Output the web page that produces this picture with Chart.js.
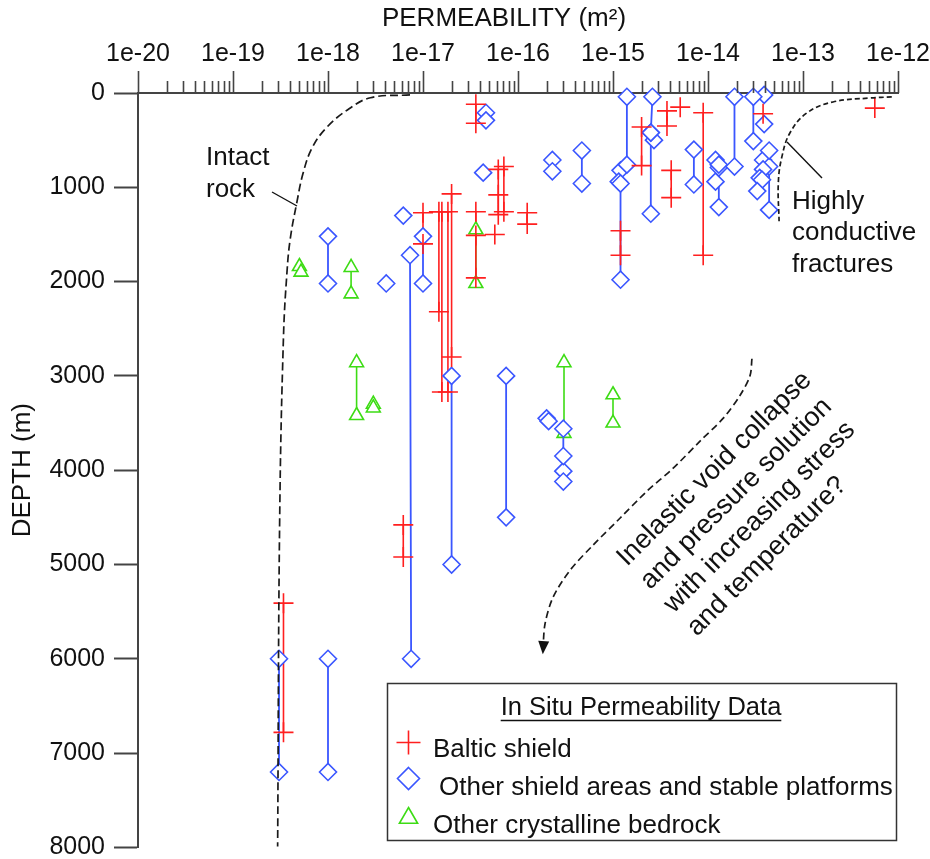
<!DOCTYPE html>
<html>
<head>
<meta charset="utf-8">
<script src="https://cdn.jsdelivr.net/npm/chart.js@4.4.1/dist/chart.umd.min.js"></script>
<style>
  html, body { margin: 0; padding: 0; background: #fff; }
  canvas { display: block; }
</style>
</head>
<body>
<canvas id="chart" width="930" height="859"></canvas>
<script>
// ---- Axis ticks ----
const decadeExponents = [-20, -19, -18, -17, -16, -15, -14, -13, -12];
const decadeLabels = ['1e-20', '1e-19', '1e-18', '1e-17', '1e-16', '1e-15', '1e-14', '1e-13', '1e-12'];
const minorMantissas = [2, 3, 4, 5, 6, 7, 8, 9];
const depthTicks = [0, 1000, 2000, 3000, 4000, 5000, 6000, 7000, 8000];

// ---- In situ permeability data ----
// single measurements: [permeability m², depth m]
// tested intervals: [permeability m², top depth m, bottom depth m, (bottom permeability)]
const balticSingles = [
  [5.1e-15, 150], [3.8e-14, 220], [5.7e-13, 160], [5.7e-17, 1500],
  [3.6e-17, 1510], [6.2e-17, 1080]
];
const balticIntervals = [
  [3.6e-17, 120, 320], [7.1e-17, 780, 1260], [6.2e-17, 810, 1290],
  [1.25e-16, 1270, 1390], [3.6e-17, 1260, 1960], [1.0e-17, 1270, 1600],
  [1.47e-17, 1260, 2320], [1.58e-17, 1260, 3170], [1.83e-17, 1260, 3170],
  [2.0e-17, 1070, 2800], [6.2e-18, 4580, 4920], [3.4e-19, 5410, 6780],
  [3.7e-15, 190, 350], [2.0e-15, 360, 770], [4.1e-15, 820, 1110],
  [8.9e-15, 210, 1720], [1.2e-15, 1460, 1720]
];

const shieldSingles = [
  [4.6e-17, 210], [4.6e-17, 290], [4.3e-17, 845], [6.2e-18, 1300], [4.1e-18, 2020],
  [2.3e-16, 710], [2.3e-16, 830], [2.0e-16, 3450], [2.1e-16, 3480],
  [3.0e-16, 4010], [3.0e-16, 4120], [1.2e-15, 820], [1.15e-15, 940], [2.7e-15, 500],
  [1.2e-14, 710], [1.2e-14, 940], [1.3e-14, 790], [3.9e-14, 20], [3.9e-14, 330],
  [3.8e-14, 710], [4.4e-14, 780], [3.8e-14, 810], [3.5e-14, 900], [3.7e-14, 920],
  [3.3e-14, 1040]
];
const shieldIntervals = [
  [1.0e-17, 1520, 2020], [7.3e-18, 1720, 6000, 7.5e-18], [1.0e-18, 1520, 2020],
  [2.0e-17, 3000, 5000], [7.5e-17, 3000, 4500], [3.0e-16, 3560, 3850],
  [3.05e-19, 6000, 7200], [1.0e-18, 6000, 7200], [4.7e-16, 610, 960],
  [1.4e-15, 40, 760], [1.2e-15, 960, 1980], [2.6e-15, 40, 420, 2.5e-15],
  [2.5e-15, 420, 1280], [7.1e-15, 600, 970], [1.3e-14, 760, 1210],
  [1.9e-14, 40, 780], [3.0e-14, 40, 510], [4.4e-14, 610, 1240]
];

const bedrockSingles = [
  [5.0e-19, 1840], [5.2e-19, 1900], [3.0e-18, 3300], [3.0e-18, 3340]
];
const bedrockIntervals = [
  [1.75e-18, 1850, 2130], [2.0e-18, 2860, 3420], [3.05e-16, 2860, 3610],
  [1.0e-15, 3200, 3500], [3.6e-17, 1450, 2020]
];

// ---- Guide curves: [permeability m², depth m] ----
const intactRockCurve = [
  [7.3e-18, 20], [2.8e-18, 50], [1.6e-18, 180], [9.8e-19, 360], [6.9e-19, 570],
  [5.5e-19, 840], [4.7e-19, 1160], [4.0e-19, 1550], [3.7e-19, 1900],
  [3.4e-19, 2580], [3.1e-19, 4510], [2.95e-19, 7990]
];
const fracturesCurve = [
  [8.6e-13, 42], [5.1e-13, 53], [2.07e-13, 95], [1.1e-13, 211], [7.3e-14, 422],
  [6.0e-14, 675], [5.5e-14, 950], [5.6e-14, 1360]
];
const collapseArrow = [
  [2.9e-14, 2818], [2.77e-14, 2997], [2.17e-14, 3208], [1.44e-14, 3451],
  [8.2e-15, 3694], [4.3e-15, 3979], [2.28e-15, 4222], [1.19e-15, 4507],
  [6.2e-16, 4792], [3.5e-16, 5066], [2.33e-16, 5351], [1.92e-16, 5636],
  [1.83e-16, 5930]
];

const FONT = '"Liberation Sans", Arial, Helvetica, sans-serif';
const INK = '#111';
const AXIS = '#444';

const series = [
  { label: 'Baltic shield', color: '#ff1f1f', style: 'cross', radius: 10, lineWidth: 1.6,
    singles: balticSingles, intervals: balticIntervals },
  { label: 'Other shield areas and stable platforms', color: '#3a56ff', style: 'rectRot', radius: 8.5, lineWidth: 1.8,
    singles: shieldSingles, intervals: shieldIntervals },
  { label: 'Other crystalline bedrock', color: '#3ddc14', style: 'triangle', radius: 8, lineWidth: 1.6,
    singles: bedrockSingles, intervals: bedrockIntervals }
];

const toPoints = rows => rows.map(([k, d]) => ({ x: k, y: d }));

function markerData(s) {
  const pts = toPoints(s.singles);
  s.intervals.forEach(([k, d1, d2, k2]) => {
    pts.push({ x: k, y: d1 }, { x: k2 ?? k, y: d2 });
  });
  return pts;
}
function intervalData(s) {
  const pts = [];
  s.intervals.forEach(([k, d1, d2, k2]) => {
    pts.push({ x: k, y: d1 }, { x: k2 ?? k, y: d2 }, { x: null, y: null });
  });
  return pts;
}

const datasets = [];
// guide curves on top
datasets.push({
  label: 'Intact rock', data: toPoints(intactRockCurve), showLine: true, pointRadius: 0,
  borderColor: '#1a1a1a', borderWidth: 1.7, borderDash: [8, 4], tension: 0.4, order: 0, clip: false
});
datasets.push({
  label: 'Highly conductive fractures', data: toPoints(fracturesCurve), showLine: true, pointRadius: 0,
  borderColor: '#1a1a1a', borderWidth: 1.7, borderDash: [5, 3], tension: 0.4, order: 0, clip: false
});
datasets.push({
  label: 'Trend', data: toPoints(collapseArrow), showLine: true, pointRadius: 0,
  borderColor: '#1a1a1a', borderWidth: 1.7, borderDash: [7, 4], tension: 0.3, order: 0, clip: false
});
series.forEach(s => {
  datasets.push({
    label: s.label, data: markerData(s), showLine: false,
    pointStyle: s.style, pointRadius: s.radius, pointHoverRadius: s.radius,
    pointBorderColor: s.color, pointBackgroundColor: s.style === 'cross' ? s.color : '#fff',
    pointBorderWidth: 1.6, borderColor: s.color, backgroundColor: '#fff', order: 1, clip: false
  });
  datasets.push({
    label: s.label + ' interval', data: intervalData(s), showLine: true, pointRadius: 0,
    borderColor: s.color, borderWidth: s.lineWidth, spanGaps: false, tension: 0, order: 2, clip: false
  });
});

// axis title and decade / sub-decade tick marks above the permeability axis
const permeabilityAxis = {
  id: 'permeabilityAxis',
  afterDraw(chart) {
    const xs = chart.scales.x;
    const y0 = xs.bottom;
    const ctx = chart.ctx;
    ctx.save();
    ctx.strokeStyle = AXIS;
    ctx.lineWidth = 1.6;
    ctx.beginPath();
    decadeExponents.forEach((e, i) => {
      const base = Math.pow(10, e);
      const px = Math.round(xs.getPixelForValue(base)) + 0.5;
      ctx.moveTo(px, y0); ctx.lineTo(px, y0 - 22);
      if (i < decadeExponents.length - 1) {
        minorMantissas.forEach(m => {
          const p = Math.round(xs.getPixelForValue(m * base)) + 0.5;
          ctx.moveTo(p, y0); ctx.lineTo(p, y0 - 12);
        });
      }
    });
    ctx.stroke();

    ctx.fillStyle = INK;
    ctx.font = '26px ' + FONT;
    ctx.textAlign = 'center';
    ctx.textBaseline = 'alphabetic';
    ctx.fillText('PERMEABILITY (m²)', 504, 26);
    ctx.restore();
  }
};

function drawMarker(ctx, style, x, y, r) {
  ctx.beginPath();
  if (style === 'cross') {
    ctx.moveTo(x - r, y); ctx.lineTo(x + r, y);
    ctx.moveTo(x, y - r); ctx.lineTo(x, y + r);
  } else if (style === 'rectRot') {
    ctx.moveTo(x, y - r); ctx.lineTo(x + r, y); ctx.lineTo(x, y + r); ctx.lineTo(x - r, y); ctx.closePath();
  } else {
    const h = r * Math.sqrt(3) / 2;
    ctx.moveTo(x, y - r); ctx.lineTo(x + h, y + r / 2); ctx.lineTo(x - h, y + r / 2); ctx.closePath();
  }
  ctx.stroke();
}

// notes, arrowhead and the data key
const notes = {
  id: 'notes',
  afterDatasetsDraw(chart) {
    const ctx = chart.ctx;
    const xs = chart.scales.x, ys = chart.scales.y;
    ctx.save();
    ctx.fillStyle = INK;
    ctx.strokeStyle = INK;
    ctx.font = '26px ' + FONT;
    ctx.textAlign = 'left';
    ctx.textBaseline = 'alphabetic';

    ctx.fillText('Intact', 206, 165);
    ctx.fillText('rock', 206, 197);
    ctx.lineWidth = 1.4;
    ctx.beginPath(); ctx.moveTo(272, 192); ctx.lineTo(297, 206); ctx.stroke();

    ctx.fillText('Highly', 792, 209);
    ctx.fillText('conductive', 792, 240);
    ctx.fillText('fractures', 792, 272);
    ctx.beginPath(); ctx.moveTo(787, 142); ctx.lineTo(822, 178); ctx.stroke();

    // arrowhead at the end of the trend curve
    const n = collapseArrow.length;
    const [k1, d1] = collapseArrow[n - 2];
    const [k2, d2] = collapseArrow[n - 1];
    const ax = xs.getPixelForValue(k2), ay = ys.getPixelForValue(d2);
    const bx = xs.getPixelForValue(k1), by = ys.getPixelForValue(d1);
    const ang = Math.atan2(ay - by, ax - bx);
    ctx.save();
    ctx.translate(ax, ay); ctx.rotate(ang);
    ctx.beginPath(); ctx.moveTo(2, 0); ctx.lineTo(-11, -5.5); ctx.lineTo(-11, 5.5); ctx.closePath();
    ctx.fill();
    ctx.restore();

    // slanted comment
    ctx.save();
    ctx.font = '27px ' + FONT;
    ctx.translate(627, 567);
    ctx.rotate(-Math.PI / 4);
    ['Inelastic void collapse', 'and pressure solution', 'with increasing stress', 'and temperature?']
      .forEach((t, i) => ctx.fillText(t, 0, i * 33));
    ctx.restore();
    ctx.restore();
  },
  afterDraw(chart) {
    const ctx = chart.ctx;
    ctx.save();
    const bx = 387, by = 683, bw = 509, bh = 157;
    ctx.fillStyle = '#fff';
    ctx.fillRect(bx, by, bw, bh);
    ctx.strokeStyle = '#333';
    ctx.lineWidth = 1.5;
    ctx.strokeRect(bx + 0.5, by + 0.5, bw, bh);

    ctx.fillStyle = INK;
    ctx.font = '25.5px ' + FONT;
    ctx.textAlign = 'center';
    ctx.textBaseline = 'alphabetic';
    const title = 'In Situ Permeability Data';
    ctx.fillText(title, 641, 715);
    const tw = ctx.measureText(title).width;
    ctx.strokeStyle = INK;
    ctx.lineWidth = 1.4;
    ctx.beginPath(); ctx.moveTo(641 - tw / 2, 720.5); ctx.lineTo(641 + tw / 2, 720.5); ctx.stroke();

    const rows = [
      { y: 742.5, r: 12, tx: 433, ty: 757 },
      { y: 778.5, r: 11, tx: 439, ty: 795 },
      { y: 818, r: 10.5, tx: 433, ty: 833 }
    ];
    ctx.textAlign = 'left';
    ctx.font = '26px ' + FONT;
    series.forEach((s, i) => {
      const row = rows[i];
      ctx.strokeStyle = s.color;
      ctx.lineWidth = 1.6;
      drawMarker(ctx, s.style, 408.5, row.y, row.r);
      ctx.fillStyle = INK;
      ctx.fillText(s.label, row.tx, row.ty);
    });
    ctx.restore();
  }
};

Chart.defaults.font.family = FONT;
Chart.defaults.color = INK;

new Chart(document.getElementById('chart'), {
  type: 'scatter',
  data: { datasets },
  options: {
    responsive: false,
    animation: false,
    layout: { padding: { left: 0, top: 0, right: 32, bottom: 8 } },
    plugins: { legend: { display: false }, tooltip: { enabled: false } },
    scales: {
      x: {
        type: 'logarithmic',
        position: 'top',
        min: 1e-20,
        max: 1e-12,
        afterBuildTicks(scale) {
          scale.ticks = decadeExponents.map(e => ({ value: Math.pow(10, e), major: true }));
        },
        afterFit(scale) {
          scale.height = 93;
          scale.paddingLeft = 0;
          scale.paddingRight = 0;
        },
        ticks: {
          autoSkip: false,
          maxRotation: 0,
          padding: 24,
          color: INK,
          font: { size: 25 },
          callback: (v, i) => decadeLabels[i]
        },
        grid: { display: true, drawOnChartArea: false, drawTicks: false },
        border: { display: true, color: AXIS, width: 2 },
        title: { display: false }
      },
      y: {
        type: 'linear',
        position: 'left',
        reverse: true,
        min: 0,
        max: 8000,
        afterBuildTicks(scale) {
          scale.ticks = depthTicks.map(v => ({ value: v }));
        },
        afterFit(scale) {
          scale.width = 138;
          scale.paddingTop = 0;
          scale.paddingBottom = 0;
        },
        ticks: {
          autoSkip: false,
          padding: 9,
          color: INK,
          font: { size: 25 },
          callback: v => String(v)
        },
        grid: { display: true, drawOnChartArea: false, drawTicks: true, tickLength: 24, color: AXIS, tickWidth: 2 },
        border: { display: true, color: AXIS, width: 2 },
        title: {
          display: true, text: 'DEPTH (m)', color: INK,
          font: { size: 26 }, padding: { top: 7, bottom: 0 }
        }
      }
    }
  },
  plugins: [permeabilityAxis, notes]
});
</script>
</body>
</html>
